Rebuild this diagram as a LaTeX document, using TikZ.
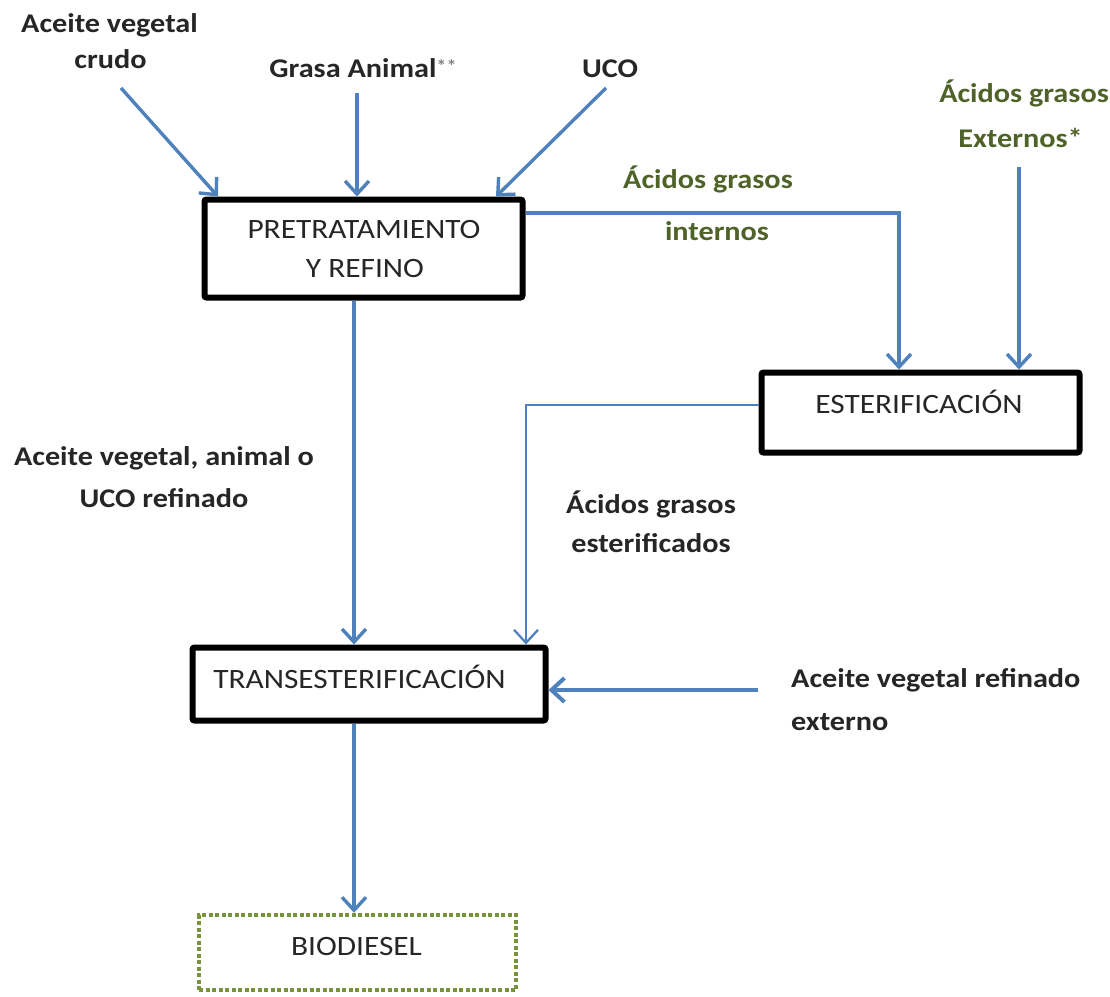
\documentclass[tikz,border=0pt]{standalone}
\usepackage{fontspec}
\setmainfont[FakeStretch=1.12]{Carlito}
\usetikzlibrary{arrows.meta}
\definecolor{flowc}{HTML}{4F81BD}
\definecolor{olive}{HTML}{4F6228}
\definecolor{bioline}{HTML}{77933C}
\definecolor{ink}{HTML}{262626}
\begin{document}
\begin{tikzpicture}[x=1pt,y=-1pt,
  box/.style={draw=black, line width=6pt, rounded corners=2pt, fill=white, inner sep=0pt},
  biobox/.style={draw=bioline, line width=4.5pt, dash pattern=on 4pt off 2.5pt, fill=white, inner sep=0pt},
  lbl/.style={font=\fontsize{27}{32}\selectfont\bfseries, text=ink, anchor=base, inner sep=0pt},
  glbl/.style={lbl, text=olive},
  btxt/.style={font=\fontsize{28}{32}\selectfont, text=ink, anchor=base, inner sep=0pt},
  flow/.style={draw=flowc, line width=3.4pt, -{Straight Barb[length=13pt,width=24pt]}},
]
\useasboundingbox (0,0) rectangle (1110,996);

% boxes
\node[box, minimum width=318pt, minimum height=98pt] (pre) at (363.5,248.5) {};
\node[box, minimum width=318pt, minimum height=80pt] (est) at (920.5,412.5) {};
\node[box, minimum width=353pt, minimum height=73pt] (trans) at (369,684) {};
\node[biobox, minimum width=317pt, minimum height=75pt] (bio) at (357.5,952.5) {};

% box texts
\node[btxt] (pretxt1) at (364,238) {PRETRATAMIENTO};
\node[btxt] (pretxt2) at (365,277) {Y REFINO};
\node[btxt] (esttxt) at (919,413) {ESTERIFICACIÓN};
\node[btxt] (trtxt) at (359.5,688) {TRANSESTERIFICACIÓN};
\node[btxt] (biotxt) at (356.5,955) {BIODIESEL};

% labels
\node[lbl] (ac1) at (109.5,32) {Aceite vegetal};
\node[lbl] (ac2) at (110.5,68) {crudo};
\node[lbl] (grasa) at (363,77) {Grasa Animal{\color{gray}\fontsize{18}{18}\selectfont\raisebox{0.55ex}{**}}};
\node[lbl] (uco) at (610,77) {UCO};
\node[glbl] (ext1) at (1024,102) {Ácidos grasos};
\node[glbl] (ext2) at (1020.5,147) {Externos*};
\node[glbl] (int1) at (708,188) {Ácidos grasos};
\node[glbl] (int2) at (717,240) {internos};
\node[lbl] (ref1) at (164,465) {Aceite vegetal, animal o};
\node[lbl] (ref2) at (164,507) {UCO refinado};
\node[lbl] (es1) at (651,513) {Ácidos grasos};
\node[lbl] (es2) at (651,552) {esterificados};
\node[lbl, anchor=base west] (rv1) at (791,687) {Aceite vegetal refinado};
\node[lbl, anchor=base west] (rv2) at (791,730) {externo};

% free ends
\coordinate (a1s) at (121,88);
\coordinate (a2s) at (357,93);
\coordinate (a3s) at (606,88);
\coordinate (exts) at (1019,167);
\coordinate (rvs) at (758,690);

% connectors
\draw[flow] (a1s) -- ([xshift=16.5pt]pre.north west);
\draw[flow] (a2s) -- (a2s |- pre.north);
\draw[flow] (a3s) -- ([xshift=-29.5pt]pre.north east);
\draw[flow] ([yshift=35.5pt]pre.east) -| ([xshift=-21.5pt]est.north);
\draw[flow] (exts) -- (exts |- est.north);
\draw[flow, line width=2.3pt] ([yshift=7.5pt]est.west) -| ([xshift=157pt]trans.north);
\draw[flow] ([xshift=-9.5pt]pre.south) -- ([xshift=-15pt]trans.north);
\draw[flow, line width=4pt] (rvs) -- (rvs -| trans.east);
\draw[flow] ([xshift=-15pt]trans.south) -- ([xshift=-3.5pt]bio.north);
\end{tikzpicture}
\end{document}
